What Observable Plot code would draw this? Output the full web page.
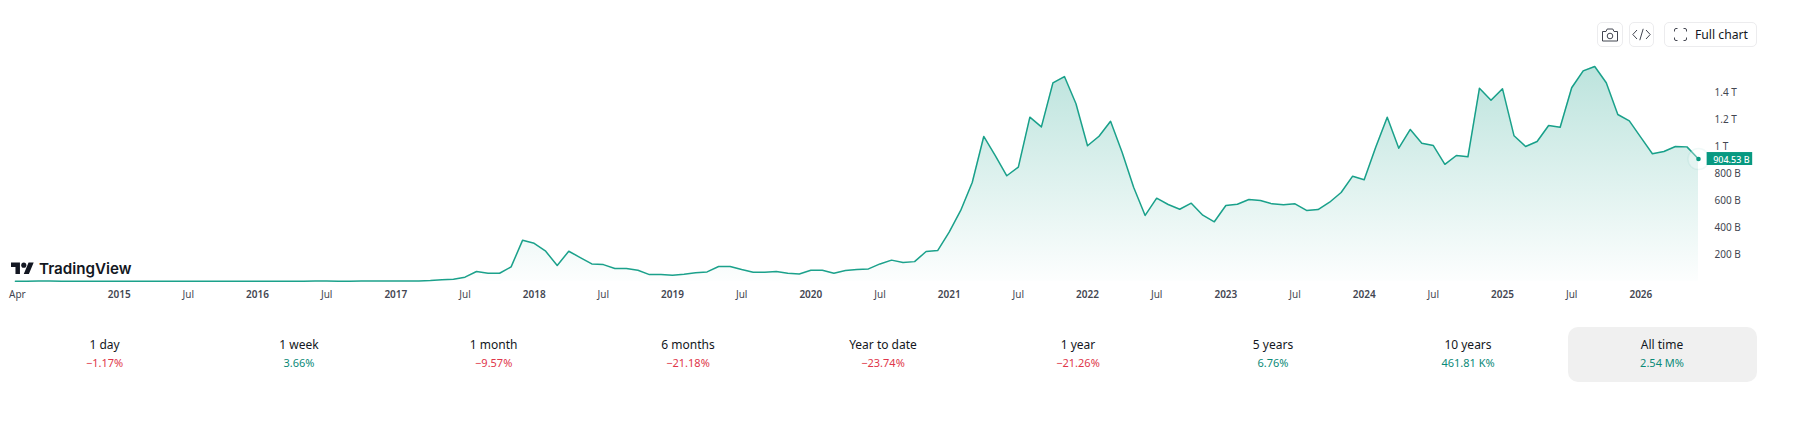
<!DOCTYPE html>
<html>
<head>
<meta charset="utf-8">
<script src="https://cdn.jsdelivr.net/npm/d3@7"></script>
<script src="https://cdn.jsdelivr.net/npm/@observablehq/plot@0.6"></script>
<style>
html,body{margin:0;padding:0;background:#fff;overflow:hidden;width:1809px;height:430px}
#wrap{position:relative;width:1809px;height:430px;font-family:"Noto Sans",sans-serif;color:#131722}
#chart{position:absolute;left:0;top:0}
.logo{position:absolute;left:11px;top:260px;display:block}
.brand{position:absolute;left:39px;top:257px;font:600 15.2px/24px Inter,sans-serif;color:#131722}
.btn{position:absolute;top:22px;height:25px;box-sizing:border-box;border:1px solid #ececee;border-radius:5px;background:#fff;display:flex;align-items:center;justify-content:center;font-size:12.2px}
.stat{position:absolute;top:327px;width:189px;height:55px;border-radius:10px;text-align:center;box-sizing:border-box}
.stat.on{background:#f0f0f0}
.stat .l{position:absolute;left:0;right:0;top:9px;font-size:12px;line-height:18px}
.stat .v{position:absolute;left:0;right:0;top:27px;font-size:11px;line-height:17px}
</style>
</head>
<body>
<div id="wrap"><div id="chart"></div></div>
<script>
// Monthly values in billions, Apr 2014 to Jun 2026
const values = [
  0.5,0.5,0.6,0.6,0.5,0.4,0.3,0.3,0.3, 0.2,0.2,0.2,0.2,0.2,0.2,0.2,0.3,0.3,0.3,0.3,0.4,
  0.5,0.5,0.5,0.5,0.5,0.6,0.6,0.5,0.5,0.6,0.7,0.7,0.8,1,
  2,5,10,15,30,72,59,59,106,304,281,222,116,222,175,128,123,94,94,81,49,49,44,
  52,62,69,109,109,86,67,67,72,59,54,81,81,59,79,86,91,128,156,138,
  145,220,227,363,524,731,1072,931,781,845,1215,1143,1469,1516,1314,
  1003,1074,1185,955,696,487,615,568,533,578,489,440,
  561,570,605,598,573,566,573,524,531,585,657,778,
  751,992,1215,985,1124,1022,1005,866,931,921,1430,1341,
  1425,1077,998,1035,1153,1141,1433,1558,1590,1470,1235,1188,
  1065,944,961,998,995,905
];
const yearTicks = [9,21,33,45,57,69,81,93,105,117,129,141];
const yearLabels = ["2015","2016","2017","2018","2019","2020","2021","2022","2023","2024","2025","2026"];
const firstTick = [0];
const firstLabel = "Apr";
const monthTicks = [15,27,39,51,63,75,87,99,111,123,135];
const monthLabel = "Jul";
const valueTicks = [200,400,600,800,1000,1200,1400];
const valueTickLabels = ["200 B","400 B","600 B","800 B","1 T","1.2 T","1.4 T"];
const lastLabel = "904.53 B";
const statNames = ["1 day","1 week","1 month","6 months","Year to date","1 year","5 years","10 years","All time"];
const statValues = ["−1.17%","3.66%","−9.57%","−21.18%","−23.74%","−21.26%","6.76%","461.81 K%","2.54 M%"];
const statCentres = [104.6,299,493.7,688,883,1078,1273,1468,1662];

const points = values.map((v,i)=>({i,v}));
const last = points[points.length-1];
const green = "#089981";
const axisColor = "#434651";

const chart = Plot.plot({
  width:1809, height:310,
  marginLeft:14.9, marginRight:111, marginTop:64.7, marginBottom:29.3,
  style:{fontFamily:'"Noto Sans",sans-serif',background:"transparent",overflow:"visible"},
  x:{type:"linear",domain:[0,146]},
  y:{domain:[0,1600]},
  marks:[
    ()=>{
      const s=d3.create("svg:defs");
      const g=s.append("linearGradient").attr("id","fade").attr("x1",0).attr("x2",0).attr("y1",0).attr("y2",1);
      g.append("stop").attr("offset","0%").attr("stop-color",green).attr("stop-opacity",.27);
      g.append("stop").attr("offset","100%").attr("stop-color",green).attr("stop-opacity",.01);
      return s.node();
    },
    Plot.areaY(points,{x:"i",y:"v",fill:"url(#fade)"}),
    Plot.lineY(points,{x:"i",y:"v",stroke:green,strokeOpacity:.92,strokeWidth:1.5}),
    Plot.dot([last],{x:"i",y:"v",r:10.5,fill:"#fff",fillOpacity:.3,stroke:green,strokeOpacity:.06}),
    Plot.dot([last],{x:"i",y:"v",r:2.3,fill:green}),
    Plot.axisY({anchor:"right",ticks:valueTicks,tickSize:0,tickPadding:16,label:null,textAnchor:"start",dy:1,
      tickFormat:d=>valueTickLabels[valueTicks.indexOf(d)],fontSize:10,fill:axisColor}),
    Plot.axisX({ticks:yearTicks,tickSize:0,tickPadding:10,label:null,fontSize:10,fontWeight:600,fill:axisColor,
      tickFormat:d=>yearLabels[yearTicks.indexOf(d)]}),
    Plot.axisX({ticks:monthTicks,tickSize:0,tickPadding:10,label:null,fontSize:10,fill:axisColor,
      tickFormat:()=>monthLabel}),
    Plot.axisX({ticks:firstTick,tickSize:0,tickPadding:10,dx:2,label:null,fontSize:10,fill:axisColor,
      tickFormat:()=>firstLabel}),
    Plot.rect([last],{x1:d=>d.i+.75,x2:d=>d.i+4.7,y1:d=>d.v-48,y2:d=>d.v+48,fill:green}),
    Plot.text([last],{x:d=>d.i+2.85,y:d=>d.v-5,text:()=>lastLabel,fill:"#fff",fontSize:9,fontWeight:500})
  ]
});
document.getElementById("chart").append(chart);

const wrap=document.getElementById("wrap");
wrap.insertAdjacentHTML("beforeend",`
<svg class="logo" width="23" height="18" viewBox="0 0 36 28"><path fill="#131722" d="M14 22H7V11H0V4h14v18zM28 22h-8l7.5-18h8L28 22z"/><circle fill="#131722" cx="20" cy="8" r="4"/></svg>
<div class="brand">TradingView</div>
<div class="btn" style="left:1597px;width:26px"><svg width="18" height="14" viewBox="0 0 18 14" fill="none" stroke="#434651" stroke-width="1"><path d="M1.500 3.500h3.500l1.200-2.500h5.600l1.200 2.500h3.500v9.500h-15z"/><circle cx="9" cy="8" r="2.800"/></svg></div>
<div class="btn" style="left:1629px;width:25px"><svg width="19" height="13" viewBox="0 0 19 13" fill="none" stroke="#434651" stroke-width="1"><path d="M5 2L.8 6.500 5 11M14 2l4.200 4.500L14 11M11.200 .8L7.800 12.200"/></svg></div>
<div class="btn" style="left:1664px;width:93px;justify-content:flex-start"><svg style="margin-left:9px" width="13" height="13" viewBox="0 0 13 13" fill="none" stroke="#434651" stroke-width="1"><path d="M.5 3.500V2A1.500 1.500 0 0 1 2 .5h1.500M9.500 .5H11A1.500 1.500 0 0 1 12.500 2v1.500M12.500 9.500V11A1.500 1.500 0 0 1 11 12.500H9.500M3.500 12.500H2A1.500 1.500 0 0 1 .5 11V9.500"/></svg><span style="margin-left:8px">Full chart</span></div>`);
statNames.forEach((n,i)=>{
  const up=!statValues[i].startsWith("−");
  wrap.insertAdjacentHTML("beforeend",`<div class="stat${i===8?" on":""}" style="left:${statCentres[i]-94.5}px"><div class="l">${n}</div><div class="v" style="color:${up?"#0a8a78":"#e0364a"}">${statValues[i]}</div></div>`);
});
</script>
</body>
</html>
